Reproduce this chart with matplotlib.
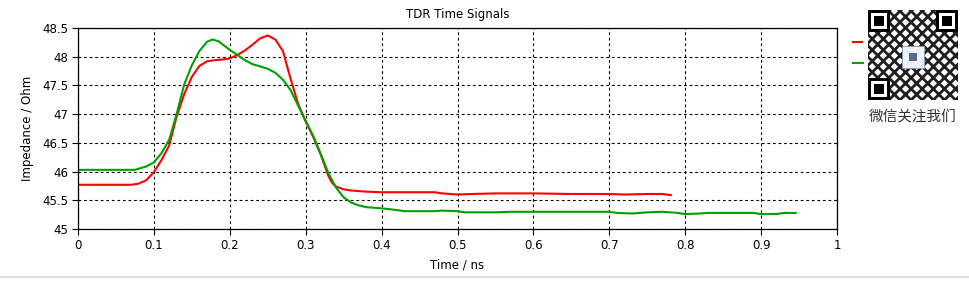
import matplotlib
matplotlib.use("Agg")
import matplotlib.pyplot as plt
from matplotlib.patches import Rectangle
from matplotlib.lines import Line2D

# ---- data ----
t_red = [0.0, 0.07, 0.08, 0.09, 0.10, 0.11, 0.12, 0.13, 0.14, 0.15, 0.16, 0.17,
         0.18, 0.19, 0.20, 0.21, 0.22, 0.23, 0.24, 0.25, 0.26, 0.27, 0.28, 0.29,
         0.30, 0.31, 0.32, 0.33, 0.335, 0.34, 0.35, 0.36, 0.38, 0.40, 0.47, 0.48,
         0.50, 0.52, 0.55, 0.60, 0.65, 0.70, 0.72, 0.75, 0.77, 0.781]
z_red = [45.77, 45.77, 45.79, 45.85, 45.99, 46.20, 46.45, 46.96, 47.35, 47.65, 47.84, 47.92,
         47.94, 47.95, 47.97, 48.03, 48.11, 48.21, 48.32, 48.37, 48.30, 48.10, 47.62, 47.18,
         46.87, 46.60, 46.29, 45.92, 45.80, 45.74, 45.69, 45.67, 45.65, 45.64, 45.64, 45.62,
         45.60, 45.61, 45.62, 45.62, 45.61, 45.61, 45.60, 45.61, 45.61, 45.59]

t_green = [0.0, 0.075, 0.08, 0.09, 0.10, 0.11, 0.12, 0.13, 0.14, 0.15, 0.16, 0.17,
           0.177, 0.185, 0.19, 0.20, 0.21, 0.22, 0.23, 0.24, 0.25, 0.26, 0.27, 0.28,
           0.29, 0.30, 0.31, 0.32, 0.33, 0.34, 0.35, 0.36, 0.37, 0.38, 0.40, 0.42,
           0.43, 0.47, 0.48, 0.50, 0.51, 0.55, 0.57, 0.70, 0.71, 0.73, 0.75, 0.77,
           0.79, 0.80, 0.82, 0.83, 0.89, 0.90, 0.92, 0.93, 0.9456]
z_green = [46.03, 46.03, 46.05, 46.09, 46.16, 46.32, 46.55, 47.00, 47.52, 47.85, 48.10, 48.26,
           48.30, 48.27, 48.22, 48.12, 48.03, 47.94, 47.87, 47.83, 47.79, 47.72, 47.60, 47.42,
           47.15, 46.88, 46.62, 46.30, 45.97, 45.72, 45.55, 45.46, 45.41, 45.38, 45.36, 45.33,
           45.31, 45.31, 45.32, 45.31, 45.29, 45.29, 45.30, 45.30, 45.28, 45.27, 45.29, 45.30,
           45.28, 45.26, 45.27, 45.28, 45.28, 45.26, 45.26, 45.28, 45.28]

x_ticks = [0, 0.1, 0.2, 0.3, 0.4, 0.5, 0.6, 0.7, 0.8, 0.9, 1]
x_tick_labels = ["0", "0.1", "0.2", "0.3", "0.4", "0.5", "0.6", "0.7", "0.8", "0.9", "1"]
y_ticks = [45, 45.5, 46, 46.5, 47, 47.5, 48, 48.5]
y_tick_labels = ["45", "45.5", "46", "46.5", "47", "47.5", "48", "48.5"]

plt.rcParams['font.family'] = ['DejaVu Sans', 'Noto Sans CJK SC']
plt.rcParams['hatch.linewidth'] = 2.0

W, H = 969, 282
fig = plt.figure(figsize=(W / 100, H / 100), dpi=100)
ax = fig.add_axes([78 / W, 1 - 229 / H, (837 - 78) / W, (229 - 28) / H])

ax.plot(t_red, z_red, color="#ff0000", lw=1.5, solid_joinstyle="round")
ax.plot(t_green, z_green, color="#00a000", lw=1.5, solid_joinstyle="round")

ax.set_xlim(0, 1)
ax.set_ylim(45, 48.5)
ax.set_xticks(x_ticks)
ax.set_xticklabels(x_tick_labels)
ax.set_yticks(y_ticks)
ax.set_yticklabels(y_tick_labels)
ax.tick_params(direction="out", length=4, width=0.8, labelsize=8.5, colors="black", pad=3)
ax.grid(True, color="black", linestyle=(0, (2.5, 2.5)), linewidth=0.8)
for s in ax.spines.values():
    s.set_color("black")
    s.set_linewidth(0.9)

ax.set_title("TDR Time Signals", fontsize=8.5, pad=7)
ax.set_xlabel("Time / ns", fontsize=8.5, labelpad=5)
ax.set_ylabel("Impedance / Ohm", fontsize=8.5, labelpad=6)


def fx(px):
    return px / W


def fy(py):
    return 1 - py / H


# legend stubs
fig.add_artist(Line2D([fx(853), fx(862)], [fy(42), fy(42)], color="#ff0000", lw=1.5))
fig.add_artist(Line2D([fx(853), fx(863)], [fy(63), fy(63)], color="#00a000", lw=1.5))

# QR-like badge
qx0, qy0, qs = 868, 10, 90
fig.add_artist(Rectangle((fx(qx0), fy(qy0 + qs)), qs / W, qs / H,
                         facecolor="white", edgecolor="#202020", hatch="xxx",
                         linewidth=0))
for (px, py) in [(qx0, qy0), (qx0 + qs - 22, qy0), (qx0, qy0 + qs - 22)]:
    fig.add_artist(Rectangle((fx(px), fy(py + 22)), 22 / W, 22 / H,
                             facecolor="black", edgecolor="none"))
    fig.add_artist(Rectangle((fx(px + 3), fy(py + 19)), 16 / W, 16 / H,
                             facecolor="white", edgecolor="none"))
    fig.add_artist(Rectangle((fx(px + 6), fy(py + 16)), 10 / W, 10 / H,
                             facecolor="black", edgecolor="none"))
fig.add_artist(Rectangle((fx(qx0 + 34), fy(qy0 + 58)), 22 / W, 22 / H,
                         facecolor="#eef2f8", edgecolor="#8899bb", linewidth=0.6))
fig.add_artist(Rectangle((fx(qx0 + 41), fy(qy0 + 51)), 8 / W, 8 / H,
                         facecolor="#5a6a8a", edgecolor="none"))
fig.text(fx(913), fy(117), "微信关注我们", ha="center", va="center", fontsize=10.5,
         color="#333333", family=['Noto Sans CJK SC', 'DejaVu Sans'])

# window border at bottom
fig.add_artist(Line2D([0, 1], [fy(277), fy(277)], color="#dcdcdc", lw=1.2))

fig.savefig("out.png", dpi=100)
